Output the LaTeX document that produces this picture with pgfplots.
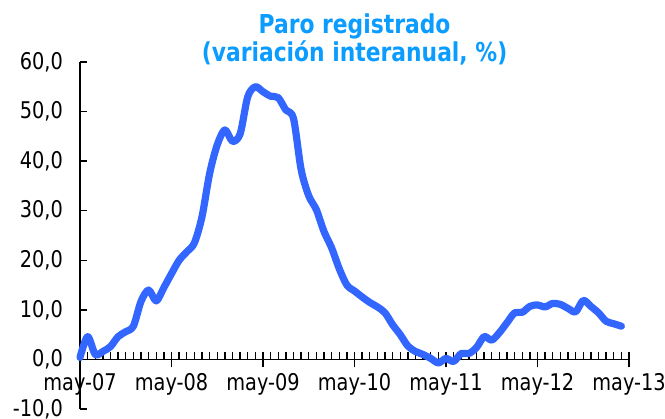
\documentclass[border=0pt]{standalone}
\usepackage{fontspec}
\setmainfont{DejaVu Sans}[FakeStretch=0.84]
\usepackage{pgfplots}
\pgfplotsset{compat=1.18}
\definecolor{titleblue}{HTML}{0A9CFF}
\definecolor{lineblue}{HTML}{3366FF}
\begin{document}
\begin{tikzpicture}
\begin{axis}[
  scale only axis,
  width=274.5pt, height=173.5pt,
  xmin=0, xmax=72, ymin=-10, ymax=60,
  axis x line=middle, axis y line=left,
  axis line style={-, black, line width=0.9pt},
  hide obscured x ticks=false, hide obscured y ticks=false,
  xtick={0,12,...,72},
  xticklabels={may-07,may-08,may-09,may-10,may-11,may-12,may-13},
  minor x tick num=11,
  ytick={-10,0,...,60},
  tick align=inside,
  major tick length=3.5pt, minor tick length=3.5pt,
  tick style={black, line width=0.7pt},
  extra x ticks={0,12,...,72},
  extra x tick labels={},
  extra x tick style={tick align=outside, major tick length=4pt},
  ticklabel style={font=\fontsize{11.5}{13}\selectfont},
  yticklabel style={xshift=-5pt},
  xticklabel style={yshift=-3.5pt},
  /pgf/number format/assume math mode=true,
  yticklabel={\pgfmathprintnumber[fixed,fixed zerofill,precision=1,use comma]{\tick}},
  clip=false,
]
\addplot[lineblue, line width=3.6pt, smooth, tension=0.5, line join=round, line cap=round] coordinates {
(0,0.4) (1,4.6) (2,1.0) (3,1.6) (4,2.6) (5,4.6) (6,5.6) (7,6.7) (8,11.7) (9,14.0)
(10,11.8) (11,14.5) (12,17.3) (13,20.0) (14,21.7) (15,23.5) (16,28.8) (17,37.5) (18,43.3) (19,46.3)
(20,44.0) (21,45.5) (22,53.0) (23,55.0) (24,54.0) (25,53.1) (26,52.8) (27,50.3) (28,48.6) (29,38.3)
(30,33.0) (31,30.2) (32,25.8) (33,22.5) (34,18.3) (35,15.0) (36,13.8) (37,12.6) (38,11.5) (39,10.6)
(40,9.4) (41,7.0) (42,5.0) (43,2.7) (44,1.6) (45,1.0) (46,0.2) (47,-0.7) (48,0.2) (49,-0.4)
(50,1.2) (51,1.2) (52,2.4) (53,4.6) (54,3.9) (55,5.4) (56,7.4) (57,9.4) (58,9.5) (59,10.7)
(60,11.0) (61,10.6) (62,11.3) (63,11.1) (64,10.3) (65,9.6) (66,11.9) (67,10.7) (68,9.4) (69,7.7)
(70,7.2) (71,6.7)
};
\end{axis}
\node[align=center, text=titleblue, font=\fontsize{13}{14}\bfseries\selectfont]
  at ([yshift=11.5pt]current axis.north) {Paro registrado\\(variación interanual, \%)};
\pgfresetboundingbox
\path[use as bounding box] ([xshift=-40pt,yshift=-5pt]current axis.south west) rectangle ([xshift=18pt,yshift=31pt]current axis.north east);
\end{tikzpicture}
\end{document}
